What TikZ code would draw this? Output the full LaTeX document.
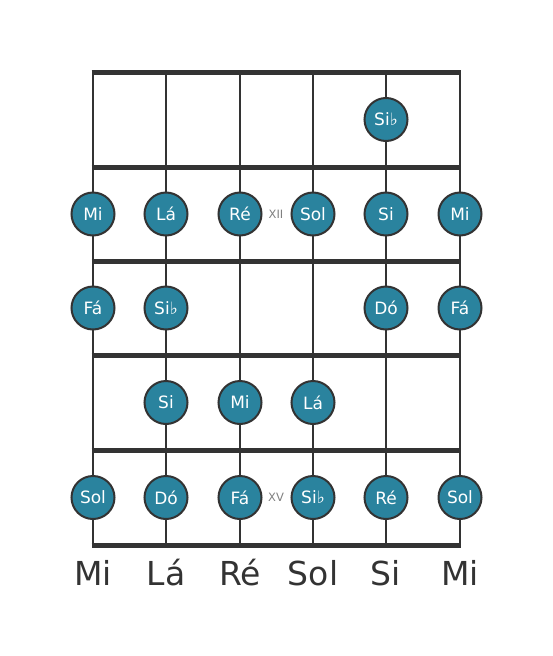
\documentclass[tikz,border=0pt]{standalone}
\usepackage{fontspec}
\setmainfont{DejaVu Sans}
\definecolor{noteblue}{HTML}{2A839E}
\definecolor{linegray}{HTML}{333333}
\begin{document}
\begin{tikzpicture}[x=1pt,y=-1pt,
  stringline/.style={draw=linegray,line width=2.8pt},
  fretline/.style={draw=linegray,line width=5pt},
  note/.style={circle,fill=noteblue,draw=linegray,line width=2pt,minimum size=43pt,inner sep=0pt,text=white,font=\fontsize{17}{17}\selectfont},
  fretnum/.style={text=gray,font=\fontsize{11.5}{11.5}\selectfont},
  strname/.style={text=linegray,font=\fontsize{33}{33}\selectfont}]
\useasboundingbox (0,0) rectangle (553,656);
% strings
\foreach \i/\x in {1/93,2/166,3/240,4/313,5/386,6/460}{
  \coordinate (t\i) at (\x,72);
  \coordinate (b\i) at (\x,545);
  \draw[stringline] (t\i) -- (b\i);
}
% frets
\foreach \j/\y in {0/72,1/167,2/261,3/355,4/450,5/545}{
  \coordinate (fl\j) at (91.6,\y);
  \coordinate (fr\j) at (461.4,\y);
  \draw[fretline] (fl\j) -- (fr\j);
}
% notes
\node[note] (n15) at (386,119.5) {Si♭};
\node[note] (n21) at (93,214) {Mi};
\node[note] (n22) at (166,214) {Lá};
\node[note] (n23) at (240,214) {Ré};
\node[note] (n24) at (313,214) {Sol};
\node[note] (n25) at (386,214) {Si};
\node[note] (n26) at (460,214) {Mi};
\node[note] (n31) at (93,308) {Fá};
\node[note] (n32) at (166,308) {Si♭};
\node[note] (n35) at (386,308) {Dó};
\node[note] (n36) at (460,308) {Fá};
\node[note] (n42) at (166,402.5) {Si};
\node[note] (n43) at (240,402.5) {Mi};
\node[note] (n44) at (313,402.5) {Lá};
\node[note] (n51) at (93,497.5) {Sol};
\node[note] (n52) at (166,497.5) {Dó};
\node[note] (n53) at (240,497.5) {Fá};
\node[note] (n54) at (313,497.5) {Si♭};
\node[note] (n55) at (386,497.5) {Ré};
\node[note] (n56) at (460,497.5) {Sol};
% fret numbers
\node[fretnum] (xii) at (276,214) {XII};
\node[fretnum] (xv) at (276,497.5) {XV};
% string names
\node[strname] (s1) at (93,573) {Mi};
\node[strname] (s2) at (166,573) {Lá};
\node[strname] (s3) at (240,573) {Ré};
\node[strname] (s4) at (313,573) {Sol};
\node[strname] (s5) at (386,573) {Si};
\node[strname] (s6) at (460,573) {Mi};
\end{tikzpicture}
\end{document}
